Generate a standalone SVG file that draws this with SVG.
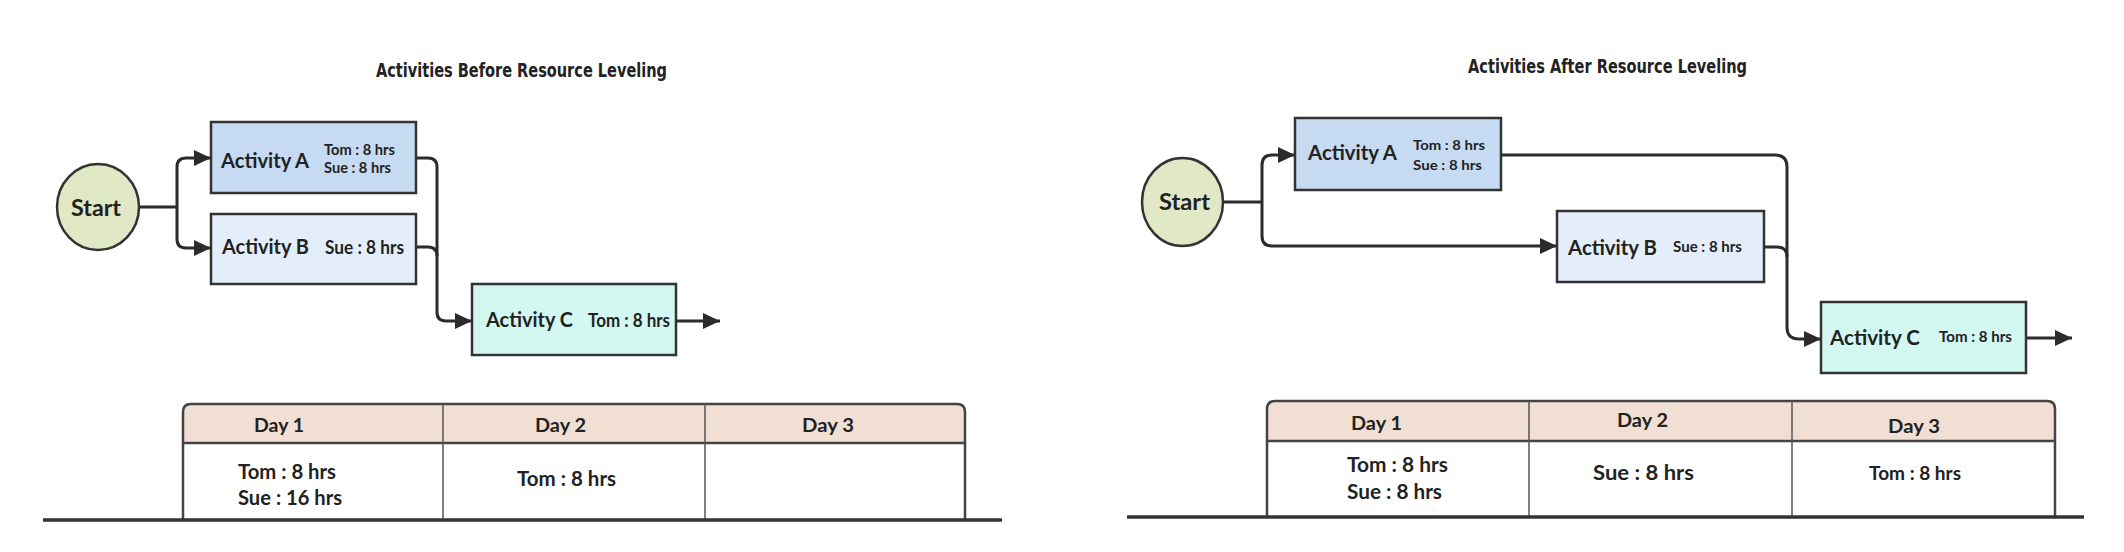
<svg xmlns="http://www.w3.org/2000/svg" width="2124" height="552" viewBox="0 0 2124 552">
<defs>
<marker id="ah" markerUnits="userSpaceOnUse" markerWidth="18" markerHeight="16" refX="17" refY="8" orient="auto">
<path d="M0,0 L17,8 L0,16 Z" fill="#2b2b2b"/>
</marker>
<style>
.t{font-family:Lato,"Liberation Sans",sans-serif;fill:#222;font-weight:bold}
.ttl{font-family:"Liberation Sans Narrow","DejaVu Sans Condensed","Liberation Sans",sans-serif;font-weight:bold;fill:#222;font-size:19px}
.box{stroke:#333;stroke-width:2.5}
.a{fill:#c6daf1}.b{fill:#e4eefb}.c{fill:#d3f8f1}
.st{fill:#e0e8c6;stroke:#333;stroke-width:2.5}
.cn{fill:none;stroke:#2b2b2b;stroke-width:3}
.hd{fill:#f1dfd4}
.tb{fill:none;stroke:#444;stroke-width:2.5}
.sep{stroke:#555;stroke-width:1.5}
.base{stroke:#333;stroke-width:3.5}
</style>
</defs>
<rect width="2124" height="552" fill="#ffffff"/>

<!-- LEFT DIAGRAM -->
<text class="ttl" x="376" y="77" textLength="291" lengthAdjust="spacingAndGlyphs">Activities Before Resource Leveling</text>

<g id="connectors-left">
<path class="cn" d="M140,207 H177"/>
<path class="cn" d="M177,207 V167 Q177,158 186,158 H211" marker-end="url(#ah)"/>
<path class="cn" d="M177,207 V239 Q177,248 186,248 H211" marker-end="url(#ah)"/>
<path class="cn" d="M416,158 H428 Q437,158 437,167 V312 Q437,321 446,321 H472" marker-end="url(#ah)"/>
<path class="cn" d="M416,247 H428 Q437,247 437,256"/>
<path class="cn" d="M676,321 H720" marker-end="url(#ah)"/>
</g>

<g id="start-left">
<ellipse class="st" cx="98" cy="207" rx="41" ry="43"/>
<text class="t" x="71" y="216" font-size="23" textLength="50" lengthAdjust="spacingAndGlyphs">Start</text>
</g>
<g id="activity-a-left">
<rect class="box a" x="211" y="122" width="205" height="71"/>
<text class="t" x="221" y="168" font-size="21" textLength="88" lengthAdjust="spacingAndGlyphs">Activity A</text>
<text class="t" x="324" y="155" font-size="15" textLength="71" lengthAdjust="spacingAndGlyphs">Tom : 8 hrs</text>
<text class="t" x="324" y="173" font-size="15" textLength="67" lengthAdjust="spacingAndGlyphs">Sue : 8 hrs</text>
</g>
<g id="activity-b-left">
<rect class="box b" x="211" y="214" width="205" height="70"/>
<text class="t" x="222" y="254" font-size="21" textLength="87" lengthAdjust="spacingAndGlyphs">Activity B</text>
<text class="t" x="325" y="254" font-size="18" textLength="79" lengthAdjust="spacingAndGlyphs">Sue : 8 hrs</text>
</g>
<g id="activity-c-left">
<rect class="box c" x="472" y="284" width="204" height="71"/>
<text class="t" x="486" y="327" font-size="21" textLength="87" lengthAdjust="spacingAndGlyphs">Activity C</text>
<text class="t" x="588" y="327" font-size="18" textLength="82" lengthAdjust="spacingAndGlyphs">Tom : 8 hrs</text>
</g>

<g id="table-left">
<path class="hd" d="M183,443 V412 Q183,404 191,404 H957 Q965,404 965,412 V443 Z"/>
<path class="tb" d="M183,520 V412 Q183,404 191,404 H957 Q965,404 965,412 V520"/>
<line class="tb" x1="183" y1="443" x2="965" y2="443"/>
<line class="sep" x1="443" y1="404" x2="443" y2="520"/>
<line class="sep" x1="705" y1="404" x2="705" y2="520"/>
<line class="base" x1="43" y1="520" x2="1002" y2="520"/>
<text class="t" x="254" y="432" font-size="19" textLength="50" lengthAdjust="spacingAndGlyphs">Day 1</text>
<text class="t" x="535" y="432" font-size="19" textLength="51" lengthAdjust="spacingAndGlyphs">Day 2</text>
<text class="t" x="802" y="432" font-size="19" textLength="52" lengthAdjust="spacingAndGlyphs">Day 3</text>
<text class="t" x="238" y="479" font-size="20" textLength="98" lengthAdjust="spacingAndGlyphs">Tom : 8 hrs</text>
<text class="t" x="238" y="505" font-size="20" textLength="104" lengthAdjust="spacingAndGlyphs">Sue : 16 hrs</text>
<text class="t" x="517" y="486" font-size="20" textLength="99" lengthAdjust="spacingAndGlyphs">Tom : 8 hrs</text>
</g>

<!-- RIGHT DIAGRAM -->
<text class="ttl" x="1468" y="73" textLength="279" lengthAdjust="spacingAndGlyphs">Activities After Resource Leveling</text>

<g id="connectors-right">
<path class="cn" d="M1223,202 H1262"/>
<path class="cn" d="M1262,202 V165 Q1262,155 1272,155 H1295" marker-end="url(#ah)"/>
<path class="cn" d="M1262,202 V236 Q1262,246 1272,246 H1557" marker-end="url(#ah)"/>
<path class="cn" d="M1501,155 H1775 Q1787,155 1787,167 V327 Q1787,339 1799,339 H1821" marker-end="url(#ah)"/>
<path class="cn" d="M1764,247 H1777 Q1787,247 1787,257"/>
<path class="cn" d="M2026,338 H2072" marker-end="url(#ah)"/>
</g>

<g id="start-right">
<ellipse class="st" cx="1182.5" cy="202" rx="40.5" ry="44"/>
<text class="t" x="1159" y="210" font-size="22" textLength="51" lengthAdjust="spacingAndGlyphs">Start</text>
</g>
<g id="activity-a-right">
<rect class="box a" x="1295" y="118" width="206" height="72"/>
<text class="t" x="1308" y="160" font-size="20" textLength="89" lengthAdjust="spacingAndGlyphs">Activity A</text>
<text class="t" x="1413" y="150" font-size="14" textLength="72" lengthAdjust="spacingAndGlyphs">Tom : 8 hrs</text>
<text class="t" x="1413" y="170" font-size="14" textLength="69" lengthAdjust="spacingAndGlyphs">Sue : 8 hrs</text>
</g>
<g id="activity-b-right">
<rect class="box b" x="1557" y="211" width="207" height="71"/>
<text class="t" x="1568" y="255" font-size="20" textLength="89" lengthAdjust="spacingAndGlyphs">Activity B</text>
<text class="t" x="1673" y="252" font-size="15" textLength="69" lengthAdjust="spacingAndGlyphs">Sue : 8 hrs</text>
</g>
<g id="activity-c-right">
<rect class="box c" x="1821" y="302" width="205" height="71"/>
<text class="t" x="1830" y="345" font-size="20" textLength="90" lengthAdjust="spacingAndGlyphs">Activity C</text>
<text class="t" x="1939" y="342" font-size="15" textLength="73" lengthAdjust="spacingAndGlyphs">Tom : 8 hrs</text>
</g>

<g id="table-right">
<path class="hd" d="M1267,441 V409 Q1267,401 1275,401 H2047 Q2055,401 2055,409 V441 Z"/>
<path class="tb" d="M1267,517 V409 Q1267,401 1275,401 H2047 Q2055,401 2055,409 V517"/>
<line class="tb" x1="1267" y1="441" x2="2055" y2="441"/>
<line class="sep" x1="1529" y1="401" x2="1529" y2="517"/>
<line class="sep" x1="1792" y1="401" x2="1792" y2="517"/>
<line class="base" x1="1127" y1="517" x2="2084" y2="517"/>
<text class="t" x="1351" y="430" font-size="19" textLength="51" lengthAdjust="spacingAndGlyphs">Day 1</text>
<text class="t" x="1617" y="427" font-size="19" textLength="51" lengthAdjust="spacingAndGlyphs">Day 2</text>
<text class="t" x="1888" y="433" font-size="19" textLength="52" lengthAdjust="spacingAndGlyphs">Day 3</text>
<text class="t" x="1347" y="472" font-size="20" textLength="101" lengthAdjust="spacingAndGlyphs">Tom : 8 hrs</text>
<text class="t" x="1347" y="499" font-size="20" textLength="95" lengthAdjust="spacingAndGlyphs">Sue : 8 hrs</text>
<text class="t" x="1593" y="480" font-size="20" textLength="101" lengthAdjust="spacingAndGlyphs">Sue : 8 hrs</text>
<text class="t" x="1869" y="480" font-size="18" textLength="92" lengthAdjust="spacingAndGlyphs">Tom : 8 hrs</text>
</g>
</svg>
